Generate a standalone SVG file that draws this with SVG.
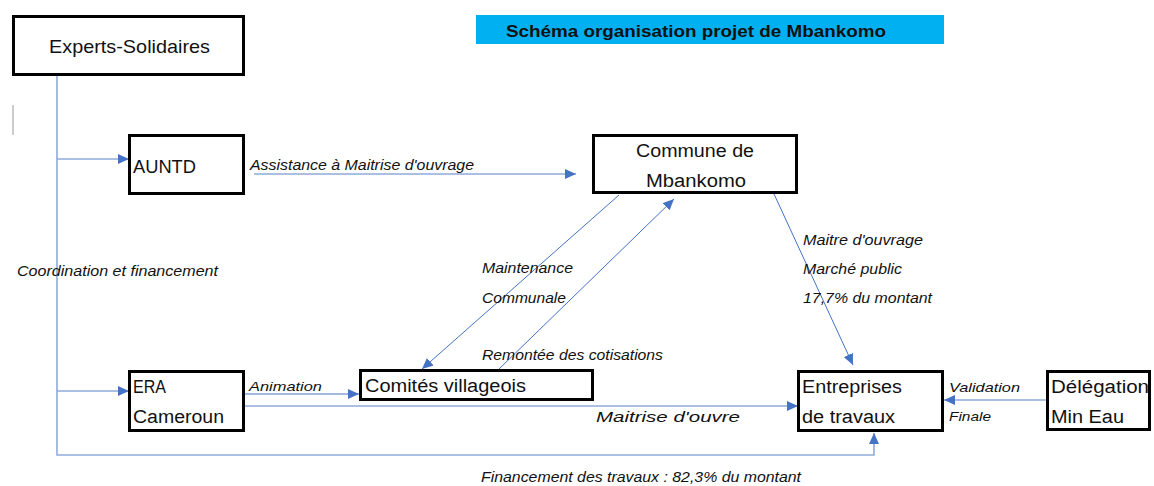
<svg xmlns="http://www.w3.org/2000/svg" width="1154" height="486" viewBox="0 0 1154 486">
  <style>
    .box { fill: #ffffff; stroke: #000000; stroke-width: 3; }
    .t { font-family: "Liberation Sans", Arial, sans-serif; fill: #111111; }
    .n { font-size: 18px; }
    .lbl { font-size: 15px; font-style: italic; }
    .sm { font-size: 13px; font-style: italic; }
    .c { fill: none; stroke: #4472C4; stroke-width: 1; }
    .cl { fill: none; stroke: #8FAADC; stroke-width: 1.6; }
  </style>
  <defs>
    <marker id="ah" markerUnits="userSpaceOnUse" markerWidth="12" markerHeight="10" refX="11" refY="5" orient="auto">
      <path d="M0,0 L11,5 L0,10 Z" fill="#4472C4"/>
    </marker>
  </defs>
  <rect width="1154" height="486" fill="#ffffff"/>

  <!-- title -->
  <g id="title">
    <rect x="476" y="15" width="468" height="29" fill="#00B0F0"/>
    <text class="t" x="506" y="37" font-size="17" font-weight="bold" textLength="380" lengthAdjust="spacingAndGlyphs">Schéma organisation projet de Mbankomo</text>
  </g>

  <line x1="13" y1="105" x2="13" y2="135" stroke="#cccccc" stroke-width="2"/>

  <!-- connectors -->
  <g id="connectors">
    <path class="cl" d="M57,76 L57,455 L874,455 L874,433" marker-end="url(#ah)"/>
    <path class="cl" d="M57,159 L129,159" marker-end="url(#ah)"/>
    <path class="cl" d="M57,391 L129,391" marker-end="url(#ah)"/>
    <path class="cl" d="M254,174 L576,174" marker-end="url(#ah)"/>
    <path class="c" d="M619,195 L422,369" marker-end="url(#ah)"/>
    <path class="c" d="M498,370 L674,199" marker-end="url(#ah)"/>
    <path class="c" d="M774,194 L853,365" marker-end="url(#ah)"/>
    <path class="c" d="M212,394 L359,394" marker-end="url(#ah)"/>
    <path class="cl" d="M239,406 L798,406" stroke-width="2" marker-end="url(#ah)"/>
    <path class="cl" d="M1046,400 L944,400" marker-end="url(#ah)"/>
  </g>

  <!-- connector labels -->
  <g id="labels">
    <text class="t lbl" x="250" y="170" textLength="224" lengthAdjust="spacingAndGlyphs">Assistance à Maitrise d'ouvrage</text>
    <text class="t lbl" x="17" y="276" font-size="16" textLength="201" lengthAdjust="spacingAndGlyphs">Coordination et financement</text>
    <text class="t lbl" x="482" y="273" textLength="91" lengthAdjust="spacingAndGlyphs">Maintenance</text>
    <text class="t lbl" x="482" y="303" textLength="84" lengthAdjust="spacingAndGlyphs">Communale</text>
    <text class="t lbl" x="482" y="360" textLength="181" lengthAdjust="spacingAndGlyphs">Remontée des cotisations</text>
    <text class="t lbl" x="803" y="245" textLength="120" lengthAdjust="spacingAndGlyphs">Maitre d'ouvrage</text>
    <text class="t lbl" x="803" y="274" textLength="99" lengthAdjust="spacingAndGlyphs">Marché public</text>
    <text class="t lbl" x="803" y="303" textLength="129" lengthAdjust="spacingAndGlyphs">17,7% du montant</text>
    <text class="t sm" x="249" y="391" textLength="73" lengthAdjust="spacingAndGlyphs">Animation</text>
    <text class="t lbl" x="596" y="422" font-size="18" textLength="144" lengthAdjust="spacingAndGlyphs">Maitrise d'ouvre</text>
    <text class="t sm" x="949" y="392" textLength="71" lengthAdjust="spacingAndGlyphs">Validation</text>
    <text class="t sm" x="949" y="421" textLength="42" lengthAdjust="spacingAndGlyphs">Finale</text>
    <text class="t lbl" x="481" y="482" font-size="14" textLength="320" lengthAdjust="spacingAndGlyphs">Financement des travaux : 82,3% du montant</text>
  </g>

  <!-- nodes -->
  <g id="experts">
    <rect class="box" x="13.5" y="16.5" width="230" height="58"/>
    <text class="t" x="49" y="53" font-size="19" textLength="161" lengthAdjust="spacingAndGlyphs">Experts-Solidaires</text>
  </g>
  <g id="auntd">
    <rect class="box" x="129.5" y="135.5" width="114" height="58"/>
    <text class="t n" x="133" y="173" textLength="63" lengthAdjust="spacingAndGlyphs">AUNTD</text>
  </g>
  <g id="commune">
    <rect class="box" x="593.5" y="135.5" width="203" height="57"/>
    <text class="t n" x="636" y="157" textLength="118" lengthAdjust="spacingAndGlyphs">Commune de</text>
    <text class="t n" x="646" y="187" textLength="100" lengthAdjust="spacingAndGlyphs">Mbankomo</text>
  </g>
  <g id="era">
    <rect class="box" x="129.5" y="371.5" width="114" height="59"/>
    <text class="t n" x="133" y="393" textLength="33" lengthAdjust="spacingAndGlyphs">ERA</text>
    <text class="t n" x="133" y="423" textLength="91" lengthAdjust="spacingAndGlyphs">Cameroun</text>
  </g>
  <g id="comites">
    <rect class="box" x="360.5" y="370.5" width="232" height="29"/>
    <text class="t n" x="365" y="392" textLength="161" lengthAdjust="spacingAndGlyphs">Comités villageois</text>
  </g>
  <g id="entreprises">
    <rect class="box" x="798.5" y="371.5" width="144" height="59"/>
    <text class="t n" x="802" y="393" textLength="100" lengthAdjust="spacingAndGlyphs">Entreprises</text>
    <text class="t n" x="802" y="423" textLength="93" lengthAdjust="spacingAndGlyphs">de travaux</text>
  </g>
  <g id="delegation">
    <rect class="box" x="1047.5" y="371.5" width="102" height="58"/>
    <text class="t n" x="1051" y="393" textLength="98" lengthAdjust="spacingAndGlyphs">Délégation</text>
    <text class="t n" x="1051" y="423" textLength="73" lengthAdjust="spacingAndGlyphs">Min Eau</text>
  </g>
</svg>
